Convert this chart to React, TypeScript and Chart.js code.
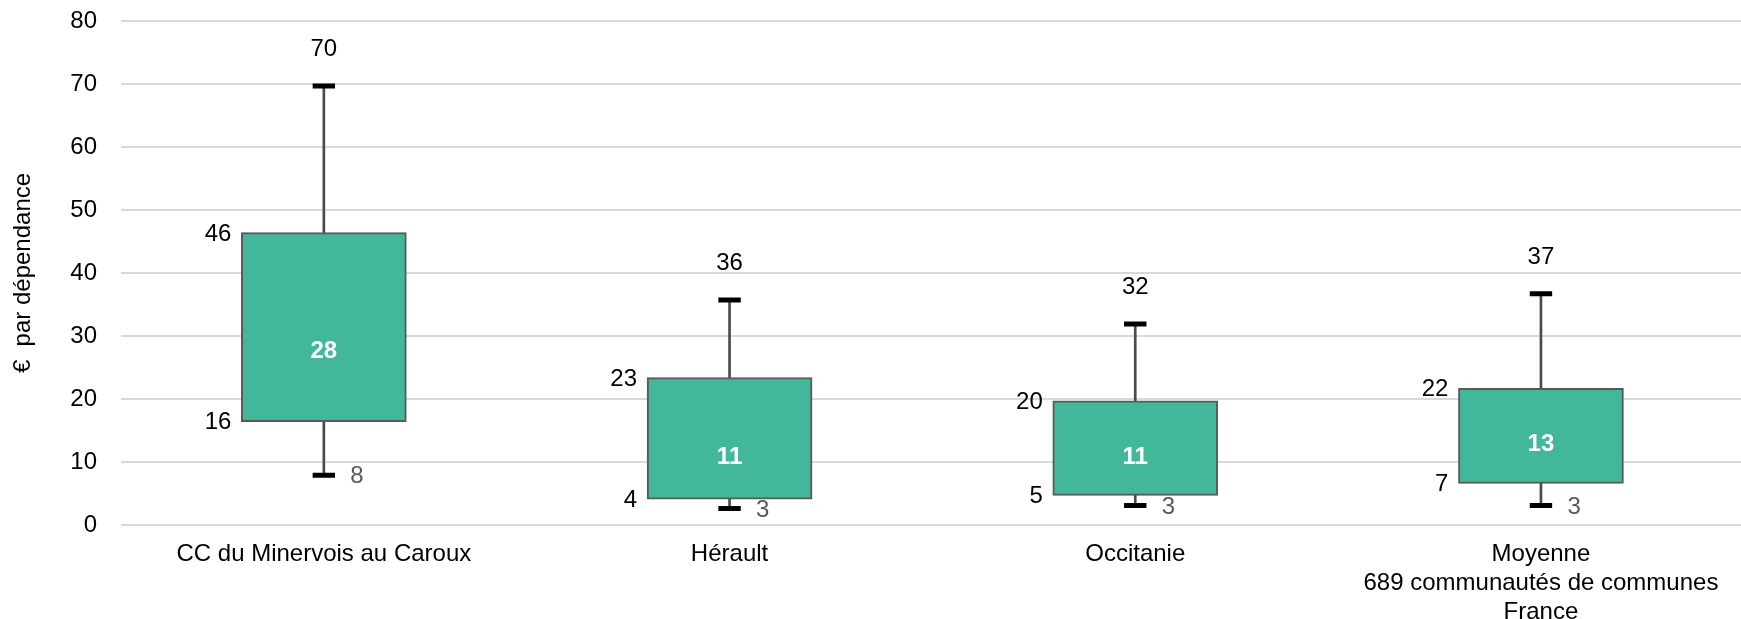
import React, { useEffect, useRef } from 'react';
import { Chart, registerables } from 'chart.js';

Chart.register(...registerables);

// ---- data ----
const categories: (string | string[])[] = [
  'CC du Minervois au Caroux',
  'Hérault',
  'Occitanie',
  ['Moyenne', '689 communautés de communes', 'France'],
];
const minValues = [7.9, 2.6, 3.1, 3.1];
const q1Values = [16.4, 4.1, 4.7, 6.6];
const medianValues = [27.6, 10.8, 10.8, 12.8];
const q3Values = [46.4, 23.4, 19.7, 21.7];
const maxValues = [69.7, 35.7, 31.9, 36.7];
const yMin = 0;
const yMax = 80;
const yStep = 10;
const yTitle = '€  par dépendance';

const FONT = '"Liberation Sans", Arial, Helvetica, sans-serif';
const BOX_DATASET = 2;

const fmt = (v: number) => String(Math.round(v));

const labelPlugin = {
  id: 'boxLabels',
  afterDatasetsDraw(chart: any) {
    const ctx = chart.ctx as CanvasRenderingContext2D;
    const y = chart.scales.y;
    const meta = chart.getDatasetMeta(BOX_DATASET);
    ctx.save();
    meta.data.forEach((el: any, i: number) => {
      const { x, width } = el.getProps(['x', 'width'], true);
      const left = x - width / 2;
      ctx.textBaseline = 'middle';
      ctx.font = `24px ${FONT}`;
      ctx.fillStyle = '#000000';
      ctx.textAlign = 'center';
      ctx.fillText(fmt(maxValues[i]), x, y.getPixelForValue(maxValues[i]) - 36.5);
      ctx.textAlign = 'right';
      ctx.fillText(fmt(q3Values[i]), left - 10, y.getPixelForValue(q3Values[i]) + 1.5);
      ctx.fillText(fmt(q1Values[i]), left - 10, y.getPixelForValue(q1Values[i]) + 1);
      ctx.textAlign = 'left';
      ctx.fillStyle = '#595959';
      ctx.fillText(fmt(minValues[i]), x + 26.5, y.getPixelForValue(minValues[i]) + 1.5);
      ctx.font = `bold 24px ${FONT}`;
      ctx.fillStyle = '#ffffff';
      ctx.textAlign = 'center';
      ctx.fillText(fmt(medianValues[i]), x, y.getPixelForValue(medianValues[i]));
    });
    ctx.restore();
  },
};

export default function App() {
  const ref = useRef<HTMLCanvasElement>(null);

  useEffect(() => {
    if (!ref.current) return;
    const chart = new Chart(ref.current, {
      type: 'bar',
      data: {
        labels: categories as any,
        datasets: [
          {
            type: 'bar',
            label: 'whisker-up',
            data: q3Values.map((v, i) => [v, maxValues[i]]) as any,
            backgroundColor: '#4a4a4a',
            borderWidth: 0,
            barThickness: 2,
            grouped: false,
            order: 3,
          } as any,
          {
            type: 'bar',
            label: 'whisker-down',
            data: minValues.map((v, i) => [v, q1Values[i]]) as any,
            backgroundColor: '#4a4a4a',
            borderWidth: 0,
            barThickness: 2,
            grouped: false,
            order: 3,
          } as any,
          {
            type: 'bar',
            label: 'box',
            data: q1Values.map((v, i) => [v, q3Values[i]]) as any,
            backgroundColor: '#42B79A',
            borderColor: '#595959',
            borderWidth: 2,
            borderSkipped: false,
            barThickness: 165,
            grouped: false,
            order: 2,
          } as any,
          {
            type: 'line',
            label: 'cap-max',
            data: maxValues,
            showLine: false,
            pointStyle: 'line',
            pointRadius: 11.2,
            pointBorderWidth: 5,
            pointBorderColor: '#000000',
            pointBackgroundColor: '#000000',
            order: 1,
          } as any,
          {
            type: 'line',
            label: 'cap-min',
            data: minValues,
            showLine: false,
            pointStyle: 'line',
            pointRadius: 11.2,
            pointBorderWidth: 5,
            pointBorderColor: '#000000',
            pointBackgroundColor: '#000000',
            order: 1,
          } as any,
        ],
      },
      options: {
        responsive: false,
        animation: false,
        events: [],
        layout: { padding: { left: 9, top: 21, right: 1, bottom: 0 } },
        plugins: {
          legend: { display: false },
          tooltip: { enabled: false },
        },
        scales: {
          x: {
            type: 'category',
            offset: true,
            grid: { display: false, drawTicks: false },
            border: { display: false },
            ticks: {
              font: { family: FONT, size: 24, lineHeight: 1.2 },
              color: '#000000',
              padding: 15,
              maxRotation: 0,
              autoSkip: false,
            },
            afterFit: (s: any) => {
              s.height = 94;
            },
          },
          y: {
            min: yMin,
            max: yMax,
            ticks: {
              stepSize: yStep,
              font: { family: FONT, size: 24 },
              color: '#000000',
              padding: 24,
            },
            grid: { color: '#d9d9d9', lineWidth: 2, drawTicks: false },
            border: { display: false },
            title: {
              display: true,
              text: yTitle,
              font: { family: FONT, size: 24, lineHeight: 1.2 },
              color: '#000000',
              padding: { top: 0, bottom: 0 },
            },
            afterFit: (s: any) => {
              s.width = 112;
              s.paddingTop = 0;
              s.paddingBottom = 0;
            },
          },
        },
      } as any,
      plugins: [labelPlugin],
    });
    return () => chart.destroy();
  }, []);

  return (
    <div
      style={{
        position: 'fixed',
        left: 0,
        top: 0,
        width: 1741,
        height: 619,
        overflow: 'hidden',
        background: '#ffffff',
      }}
    >
      <canvas ref={ref} width={1760} height={619} style={{ display: 'block', width: 1760, height: 619 }} />
    </div>
  );
}
